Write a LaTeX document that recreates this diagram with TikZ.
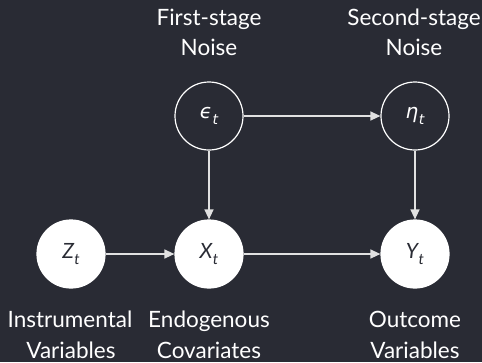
\documentclass[tikz,border=0pt]{standalone}
\usepackage{fontspec}
\setmainfont{Lato}
\newfontfamily\greekfont{DejaVu Sans}
\usetikzlibrary{arrows.meta}
\definecolor{bg}{RGB}{41,43,52}
\definecolor{ln}{RGB}{225,225,225}
\newcommand{\mvar}[2]{{\itshape #1\kern0.5pt\raisebox{-0.3em}{\fontsize{15}{15}\selectfont #2}}}
\newcommand{\gvar}[2]{{\greekfont\itshape #1\kern0.5pt\raisebox{-0.3em}{\fontsize{14}{14}\selectfont #2}}}
\tikzset{
  x=1pt,y=-1pt,
  obs/.style={circle,fill=white,draw=white,line width=1.2pt,minimum size=68pt,inner sep=0pt,text=bg,font=\fontsize{21}{21}\selectfont},
  lat/.style={circle,fill=bg,draw=white,line width=1.2pt,minimum size=68pt,inner sep=0pt,text=white,font=\fontsize{20}{20}\selectfont},
  lbl/.style={text=white,font=\fontsize{22.5}{30}\selectfont,align=center,anchor=base,inner sep=0pt},
  conn/.style={draw=ln,line width=1.3pt,-{Triangle[length=10pt,width=9pt]}},
}
\begin{document}
\begin{tikzpicture}
\fill[bg] (0,0) rectangle (482,362);
\useasboundingbox (0,0) rectangle (482,362);
\node[obs] (Z) at (71,254) {\mvar{Z}{t}};
\node[obs] (X) at (209,254) {\mvar{X}{t}};
\node[obs] (Y) at (415,254) {\mvar{Y}{t}};
\node[lat] (E) at (209,116) {\gvar{ϵ}{t}};
\node[lat] (H) at (415,116) {\gvar{η}{t}};
\draw[conn] (Z) -- (X);
\draw[conn] (X) -- (Y);
\draw[conn] (E) -- (X);
\draw[conn] (E) -- (H);
\draw[conn] (H) -- (Y);
\node[lbl] (l1a) at (209,25) {First-stage};
\node[lbl] (l1b) at (209,55) {Noise};
\node[lbl] (l2a) at (414,25) {Second-stage};
\node[lbl] (l2b) at (414,55) {Noise};
\node[lbl] (l3a) at (70,327) {Instrumental};
\node[lbl] (l3b) at (71,358) {Variables};
\node[lbl] (l4a) at (209,327) {Endogenous};
\node[lbl] (l4b) at (209,358) {Covariates};
\node[lbl] (l5a) at (415,327) {Outcome};
\node[lbl] (l5b) at (415,358) {Variables};
\end{tikzpicture}
\end{document}
